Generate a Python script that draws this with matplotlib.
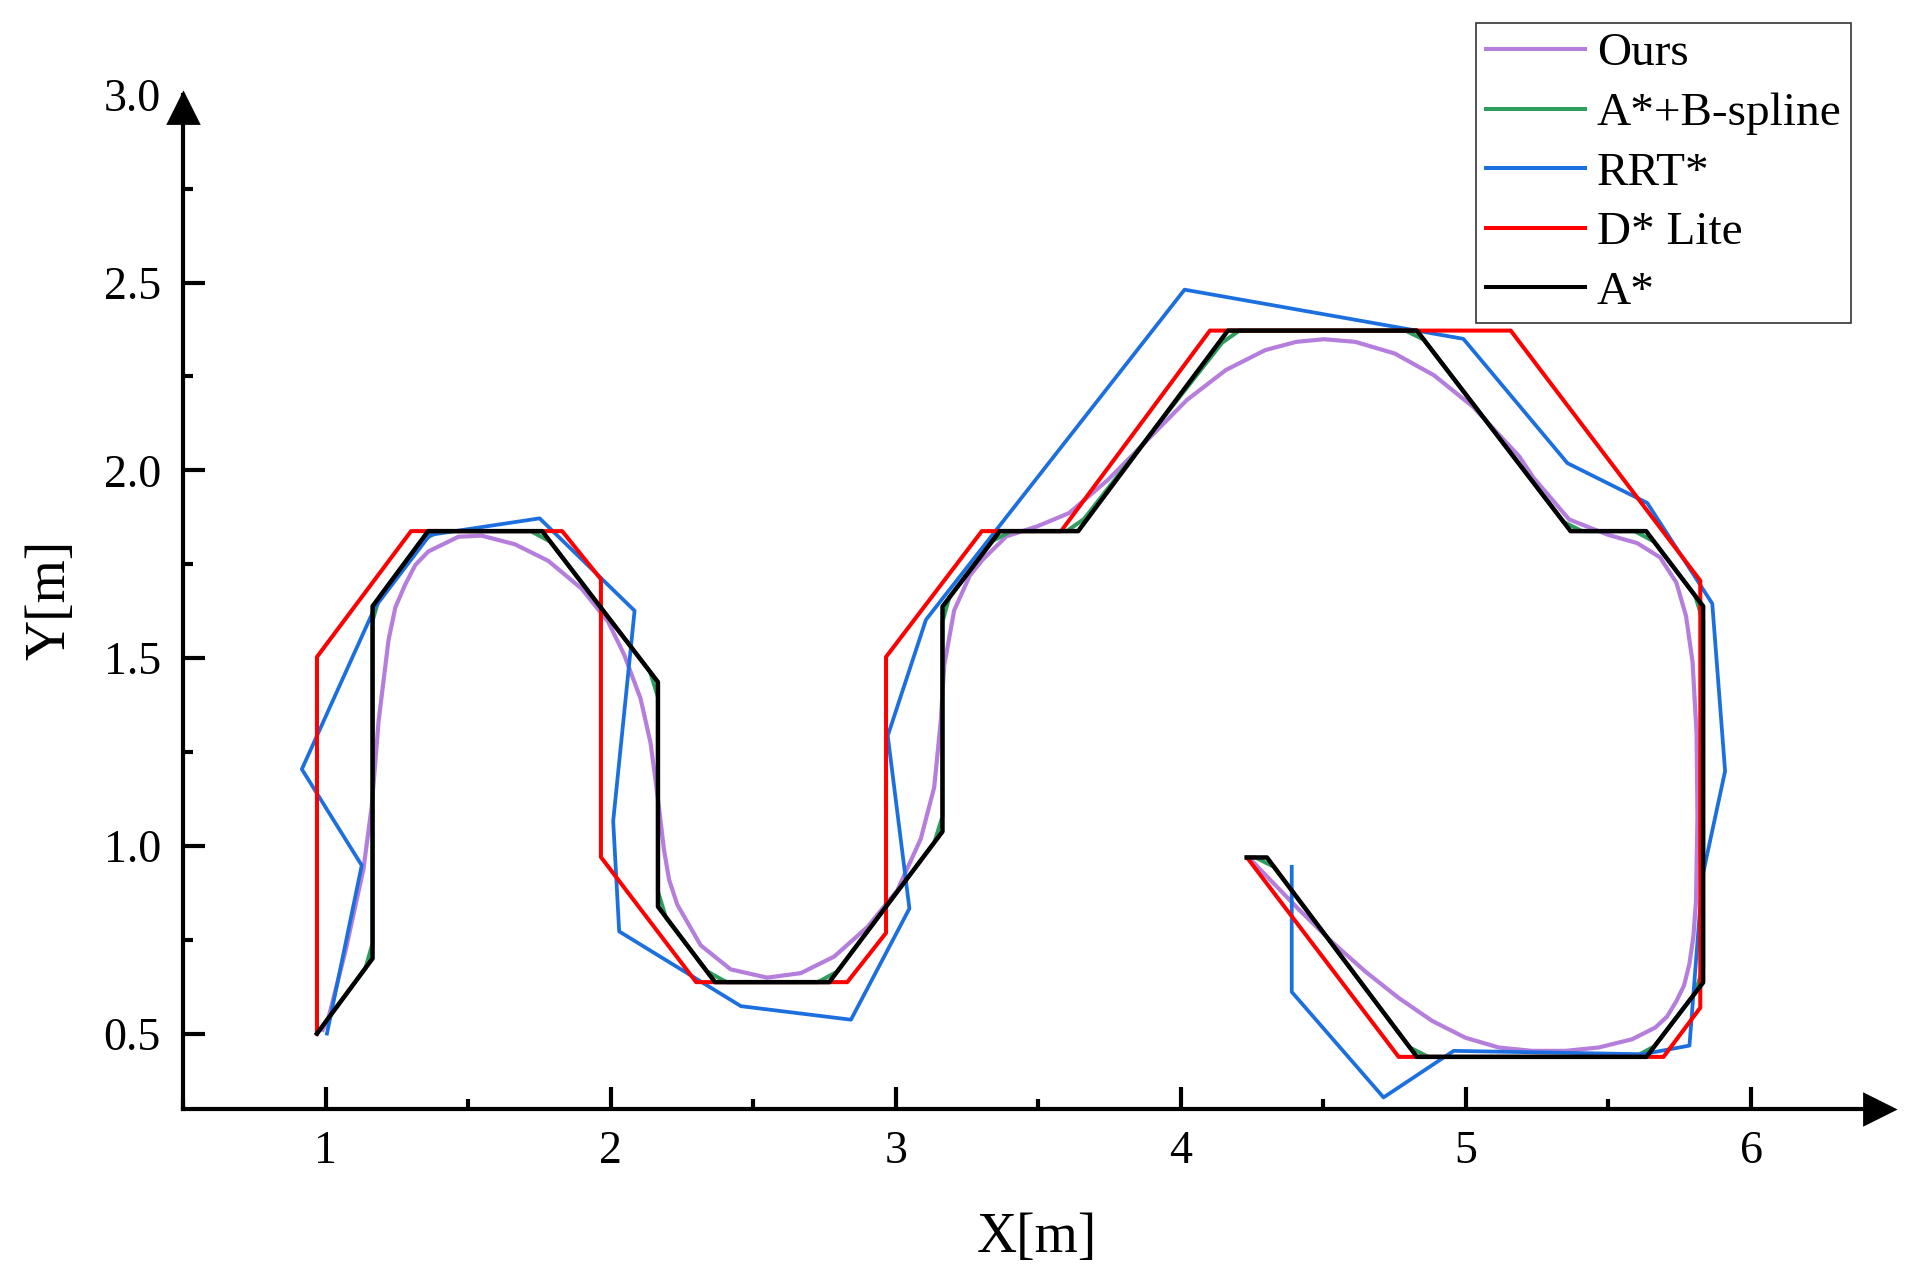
import matplotlib
matplotlib.use('Agg')
import matplotlib.pyplot as plt
from matplotlib.ticker import MultipleLocator, FormatStrFormatter

# path data (metres)
ours_x = [0.99, 1.011, 1.07, 1.133, 1.162, 1.186, 1.221, 1.245, 1.279, 1.315, 1.361, 1.466,
          1.547, 1.664, 1.781, 1.898, 1.991, 2.047, 2.105, 2.140, 2.164, 2.187, 2.205, 2.234,
          2.316, 2.421, 2.549, 2.667, 2.784, 2.901, 3.006, 3.088, 3.135, 3.158, 3.170, 3.205,
          3.26, 3.305, 3.388, 3.497, 3.608, 3.745, 3.883, 4.021, 4.158, 4.296, 4.405, 4.502,
          4.612, 4.750, 4.888, 5.025, 5.188, 5.237, 5.362, 5.499, 5.601, 5.681, 5.738, 5.772,
          5.795, 5.809, 5.812, 5.807, 5.798, 5.784, 5.765, 5.738, 5.705, 5.664, 5.583, 5.466,
          5.349, 5.232, 5.115, 4.998, 4.881, 4.764, 4.646, 4.529, 4.412, 4.30, 4.243]
ours_y = [0.51, 0.544, 0.72, 0.938, 1.105, 1.331, 1.548, 1.635, 1.695, 1.748, 1.784, 1.823,
          1.826, 1.803, 1.759, 1.685, 1.597, 1.510, 1.392, 1.274, 1.137, 0.990, 0.910, 0.843,
          0.735, 0.671, 0.649, 0.661, 0.705, 0.784, 0.882, 1.019, 1.156, 1.333, 1.480, 1.627,
          1.72, 1.762, 1.824, 1.851, 1.886, 1.975, 2.081, 2.187, 2.267, 2.320, 2.342, 2.349,
          2.342, 2.311, 2.253, 2.169, 2.036, 1.980, 1.869, 1.828, 1.806, 1.768, 1.701, 1.612,
          1.489, 1.299, 1.076, 0.853, 0.760, 0.686, 0.628, 0.586, 0.545, 0.516, 0.485, 0.463,
          0.454, 0.454, 0.463, 0.489, 0.534, 0.595, 0.666, 0.745, 0.832, 0.92, 0.965]

bspline_x = [0.97, 1.14, 1.165, 1.165, 1.19, 1.335, 1.40, 1.72, 1.788, 2.138, 2.166, 2.166,
             2.194, 2.338, 2.406, 2.727, 2.795, 3.136, 3.164, 3.164, 3.188, 3.34, 3.405, 3.60,
             3.66, 4.145, 4.205, 4.788, 4.852, 5.343, 5.407, 5.592, 5.66, 5.804, 5.832, 5.832,
             5.804, 5.661, 5.593, 4.868, 4.803, 4.327, 4.262, 4.231]
bspline_y = [0.5, 0.674, 0.74, 1.60, 1.664, 1.812, 1.838, 1.838, 1.81, 1.464, 1.396, 0.878,
             0.809, 0.666, 0.637, 0.637, 0.665, 1.01, 1.078, 1.597, 1.662, 1.812, 1.838, 1.838,
             1.870, 2.34, 2.372, 2.372, 2.348, 1.862, 1.838, 1.838, 1.81, 1.666, 1.598, 0.676,
             0.608, 0.466, 0.438, 0.438, 0.463, 0.944, 0.969, 0.969]

rrt_x = [1.005, 1.127, 0.917, 1.174, 1.366, 1.751, 2.084, 2.009, 2.03, 2.457, 2.843, 3.048,
         2.972, 3.106, 4.013, 4.826, 4.991, 5.356, 5.636, 5.864, 5.909, 5.830, 5.784, 5.62,
         4.957, 4.711, 4.389, 4.389]
rrt_y = [0.5, 0.948, 1.204, 1.636, 1.828, 1.872, 1.626, 1.066, 0.772, 0.573, 0.537, 0.833,
         1.293, 1.602, 2.481, 2.372, 2.350, 2.019, 1.913, 1.645, 1.199, 0.920, 0.468, 0.445,
         0.454, 0.330, 0.611, 0.944]

dlite_x = [0.97, 0.97, 1.30, 1.83, 1.966, 1.966, 2.30, 2.83, 2.966, 2.966, 3.302, 3.58,
           4.102, 5.157, 5.822, 5.822, 5.693, 4.764, 4.237]
dlite_y = [0.5, 1.503, 1.838, 1.838, 1.710, 0.970, 0.637, 0.637, 0.768, 1.503, 1.838, 1.838,
           2.372, 2.372, 1.706, 0.569, 0.438, 0.438, 0.964]

astar_x = [0.97, 1.165, 1.165, 1.36, 1.76, 2.166, 2.166, 2.366, 2.767, 3.164, 3.164, 3.365,
           3.64, 4.165, 4.828, 5.367, 5.632, 5.832, 5.832, 5.633, 4.828, 4.302, 4.231]
astar_y = [0.5, 0.70, 1.638, 1.838, 1.838, 1.436, 0.838, 0.637, 0.637, 1.038, 1.637, 1.838,
           1.838, 2.372, 2.372, 1.838, 1.838, 1.638, 0.636, 0.438, 0.438, 0.969, 0.969]

x_ticks = [1, 2, 3, 4, 5, 6]
y_ticks = [0.5, 1.0, 1.5, 2.0, 2.5, 3.0]

plt.rcParams['font.family'] = ['Liberation Serif', 'DejaVu Serif']

fig = plt.figure(figsize=(9.61, 6.385), dpi=200)
ax = fig.add_axes([0.0952, 0.1318, 0.8826, 0.794])

ax.plot(ours_x, ours_y, color='#B57EDC', lw=1.5, label='Ours')
ax.plot(bspline_x, bspline_y, color='#2E9E5E', lw=1.45, label='A*+B-spline')
ax.plot(rrt_x, rrt_y, color='#1C6FDF', lw=1.35, label='RRT*')
ax.plot(dlite_x, dlite_y, color='#FF0000', lw=1.45, label='D* Lite')
ax.plot(astar_x, astar_y, color='black', lw=1.6, label='A*')

ax.set_xlim(0.5, 6.45)
ax.set_ylim(0.3, 3.0)
ax.xaxis.set_minor_locator(MultipleLocator(0.5))
ax.yaxis.set_minor_locator(MultipleLocator(0.25))
ax.set_xticks(x_ticks)
ax.set_yticks(y_ticks)
ax.yaxis.set_major_formatter(FormatStrFormatter('%.1f'))

for side in ['top', 'right']:
    ax.spines[side].set_visible(False)
for side in ['left', 'bottom']:
    ax.spines[side].set_linewidth(1.5)

ax.tick_params(which='major', direction='in', length=7.8, width=1.5, labelsize=16.5, pad=8)
ax.tick_params(which='minor', direction='in', length=3.6, width=1.5)
ax.yaxis.get_major_ticks()[-1].tick1line.set_visible(False)

# arrow heads on the axes
ax.plot([6.45], [0.3], marker='>', color='black', ms=11, clip_on=False)
ax.plot([0.5], [2.966], marker='^', color='black', ms=11, clip_on=False)

ax.set_xlabel('X[m]', fontsize=20)
ax.set_ylabel('Y[m]', fontsize=20)
ax.xaxis.label.set_verticalalignment('center')
ax.yaxis.label.set_verticalalignment('center')
ax.xaxis.set_label_coords(0.5035, -0.128)
ax.yaxis.set_label_coords(-0.078, 0.502)

leg = ax.legend(loc='upper right', bbox_to_anchor=(0.9631, 0.982), bbox_transform=fig.transFigure,
                borderaxespad=0, fontsize=17, frameon=True, fancybox=False,
                handlelength=2.1, handletextpad=0.25, labelspacing=0.35, borderpad=0.2)
leg.get_frame().set_edgecolor('black')
leg.get_frame().set_linewidth(0.6)
for line in leg.get_lines():
    line.set_linewidth(1.45)

fig.savefig('out.png', dpi=200)
